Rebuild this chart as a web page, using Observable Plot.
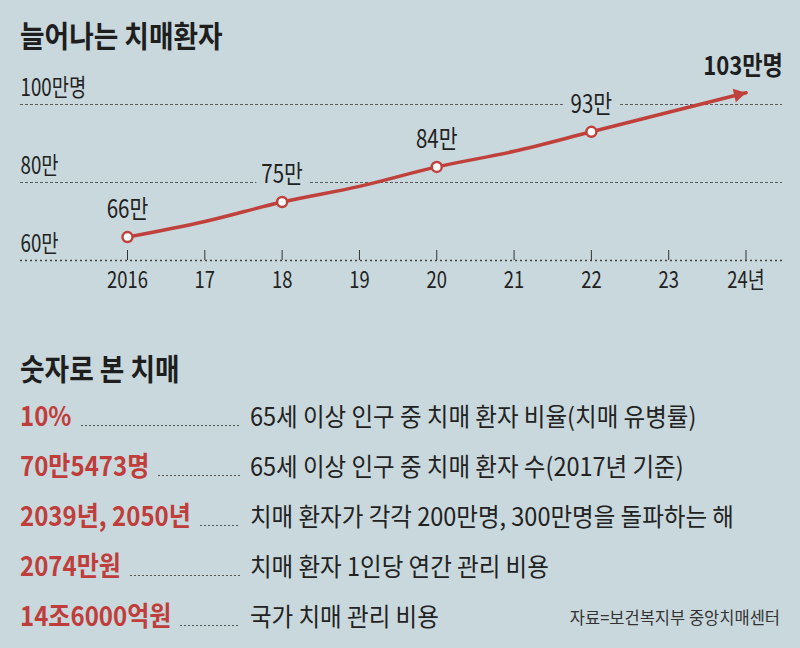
<!DOCTYPE html>
<html>
<head>
<meta charset="utf-8">
<script src="https://cdn.jsdelivr.net/npm/d3@7"></script>
<script src="https://cdn.jsdelivr.net/npm/@observablehq/plot@0.6"></script>
<style>
  html, body { margin: 0; padding: 0; background: #c9d8dc; }
  #wrap { position: relative; width: 800px; height: 648px; background: #c9d8dc; overflow: hidden;
          font-family: "Noto Sans CJK KR", sans-serif; color: #222; }
  .title { position: absolute; left: 20px; font-weight: 700; white-space: nowrap;
           font-size: 30px; line-height: 1; color: #1e1e1e; transform: scaleX(0.89); transform-origin: left center; }
  #chart { position: absolute; left: 0; top: 55px; }
  .row { position: absolute; left: 20px; width: 780px; height: 50px; }
  .val { position: absolute; left: 0; top: 0; line-height: 50px; font-weight: 700; font-size: 27px; color: #bf3d3a;
         white-space: nowrap; transform: scaleX(0.89); transform-origin: left center; }
  .lead { position: absolute; height: 1px;
          background-image: repeating-linear-gradient(to right, #555 0 2px, transparent 2px 4px); }
  .desc { position: absolute; left: 230px; top: 0; line-height: 50px; font-size: 25px; white-space: nowrap; color: #222;
          transform: scaleX(0.94); transform-origin: left center; }
  .src { position: absolute; right: 20px; top: 609px; font-size: 16.5px; line-height: 1; color: #333; white-space: nowrap; }
</style>
</head>
<body>
<div id="wrap">
  <div class="title" style="top:19px">늘어나는 치매환자</div>
  <div id="chart"></div>
  <div class="title" style="top:352px">숫자로 본 치매</div>
  <div id="rows"></div>
  <div class="src" id="src"></div>
</div>
<script>
// ---- chart data ----
const years = [2016, 2017, 2018, 2019, 2020, 2021, 2022, 2023, 2024];
const patients = [66, 70, 75, 79, 84, 88, 93, 98, 103];
const tickLabels = ["2016", "17", "18", "19", "20", "21", "22", "23", "24년"];
const labeledYears = [2016, 2018, 2020, 2022];
const pointLabels = ["66만", "75만", "84만", "93만"];
const endLabel = "103만명";
const gridValues = [60, 80, 100];
const gridLabels = ["60만", "80만", "100만명"];

// ---- stats data ----
const statValues = ["10%", "70만5473명", "2039년, 2050년", "2074만원", "14조6000억원"];
const statDescriptions = [
  "65세 이상 인구 중 치매 환자 비율(치매 유병률)",
  "65세 이상 인구 중 치매 환자 수(2017년 기준)",
  "치매 환자가 각각 200만명, 300만명을 돌파하는 해",
  "치매 환자 1인당 연간 관리 비용",
  "국가 치매 관리 비용"
];
const sourceText = "자료=보건복지부 중앙치매센터";

const RED = "#c0403b";
const BG = "#c9d8dc";
const FONT = "'Noto Sans CJK KR', sans-serif";

const data = years.map((y, i) => ({year: y, value: patients[i]}));
const labeled = data.filter(d => labeledYears.includes(d.year))
  .map(d => ({...d, label: pointLabels[labeledYears.indexOf(d.year)]}));
const last = data[data.length - 1];

const W = 800, H = 245, MT = 49, MB = 40;
const chart = Plot.plot({
  width: W,
  height: H,
  marginTop: MT,
  marginBottom: MB,
  marginLeft: 20,
  marginRight: 18,
  style: {background: "transparent", fontFamily: FONT, color: "#222", overflow: "visible"},
  x: {type: "linear", domain: [2014.616, 2024.472], axis: null},
  y: {domain: [60, 100], axis: null},
  marks: [
    Plot.ruleY(gridValues.slice(1), {y: d => d, stroke: "#5a5a5a", strokeWidth: 1, strokeDasharray: "3,2"}),
    Plot.ruleY(gridValues.slice(0, 1), {y: d => d, stroke: "#444", strokeWidth: 1.5, strokeDasharray: "2,3"}),
    Plot.ruleX(years, {x: d => d, insetTop: H - MT - MB - 10, stroke: "#333", strokeWidth: 1}),
    Plot.text(years, {x: d => d, text: (d, i) => tickLabels[i], frameAnchor: "bottom", dy: 20,
      lineAnchor: "middle", fontSize: 23, fill: "#222"}),
    Plot.text(gridValues, {y: d => d, text: (d, i) => gridLabels[i], frameAnchor: "left",
      textAnchor: "start", lineAnchor: "middle", dy: -16, fontSize: 24, fill: "#222"}),
    Plot.text(labeled, {x: "year", y: "value", text: "label", dy: -27, lineAnchor: "middle",
      fontSize: 25, fill: "#222", stroke: BG, strokeWidth: 22}),
    Plot.text([last], {x: "year", y: "value", text: () => endLabel, dy: -26, dx: -3, lineAnchor: "middle",
      fontSize: 26, fontWeight: "bold", fill: "#1e1e1e"}),
    Plot.line(data, {x: "year", y: "value", stroke: RED, strokeWidth: 3.5, curve: "monotone-x"}),
    Plot.dot(labeled, {x: "year", y: "value", r: 5, fill: "white", stroke: RED, strokeWidth: 2.5}),
    Plot.dot([last], {x: "year", y: "value", symbol: "triangle", r: 5.2, fill: RED, stroke: "none",
      rotate: 77, dx: -7.8, dy: 1.8})
  ]
});
// narrow the glyphs horizontally, as in the condensed typeface of the original
const squeeze = [0.8, 0.78, 0.82, 0.85];
chart.querySelectorAll('g[aria-label="text"]').forEach((g, k) => {
  g.querySelectorAll("text").forEach(t => {
    const tr = t.getAttribute("transform") || "";
    t.setAttribute("transform", tr + ` scale(${squeeze[k] ?? 1},1)`);
  });
});
document.getElementById("chart").appendChild(chart);

// ---- stats rows ----
const rows = document.getElementById("rows");
const rowTop0 = 390;
statValues.forEach((v, i) => {
  const row = document.createElement("div");
  row.className = "row";
  row.style.top = (rowTop0 + i * 50) + "px";
  const val = document.createElement("span");
  val.className = "val";
  val.textContent = v;
  const lead = document.createElement("div");
  lead.className = "lead";
  const desc = document.createElement("span");
  desc.className = "desc";
  desc.textContent = statDescriptions[i];
  row.appendChild(val);
  row.appendChild(lead);
  row.appendChild(desc);
  rows.appendChild(row);
  // leader runs from just after the value to the description column
  const valW = val.getBoundingClientRect().width;
  const start = valW + 9;
  lead.style.left = start + "px";
  lead.style.width = Math.max(0, 220 - start) + "px";
  lead.style.top = "35px";
});
document.getElementById("src").textContent = sourceText;
</script>
</body>
</html>
